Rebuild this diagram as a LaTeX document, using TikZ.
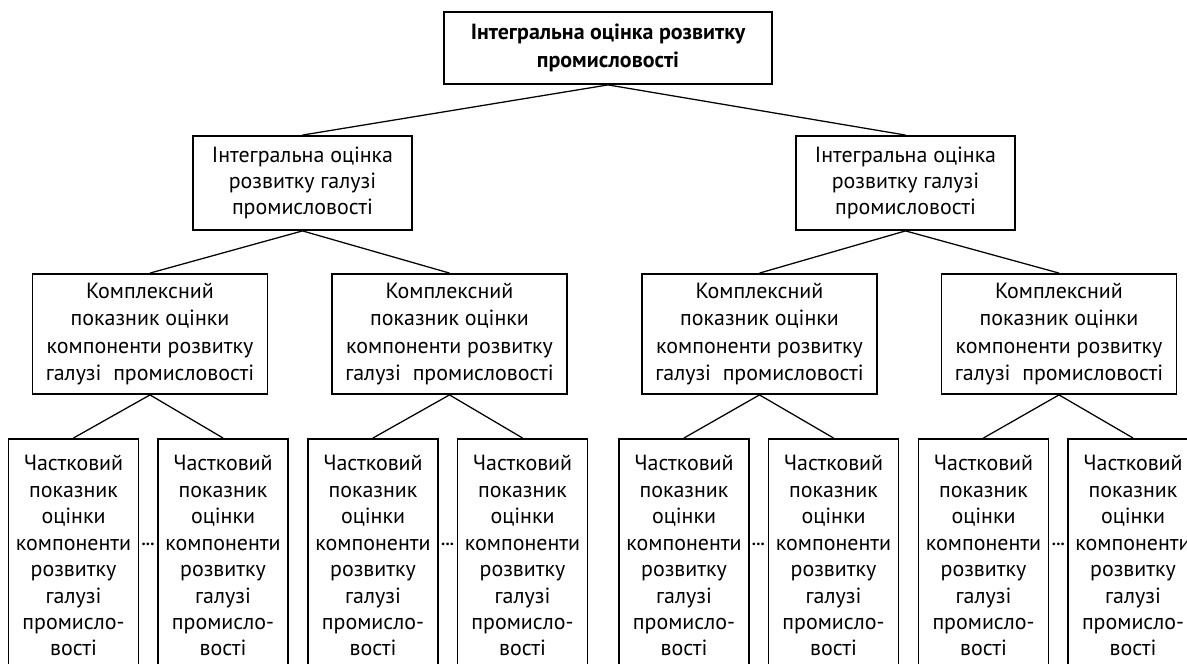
\documentclass[tikz,border=0pt]{standalone}
\usepackage{fontspec}
\setmainfont{PT Sans}
\usepackage{tikz}
\usetikzlibrary{positioning}

\begin{document}
\begin{tikzpicture}[
	box/.style={draw, line width=1.3pt, align=center, inner sep=2pt, font=\fontsize{15.6}{18.8}\selectfont},
	topbox/.style={box, minimum width=8.2cm, minimum height=1.8cm, font=\fontsize{15.6}{19.6}\selectfont\bfseries},
	branchbox/.style={box, minimum width=5.475cm, minimum height=2.35cm},
	compbox/.style={box, minimum width=5.875cm, minimum height=3cm, font=\fontsize{15.6}{19.6}\selectfont},
	leafbox/.style={box, anchor=north, minimum width=3.25cm, minimum height=5.85cm},
	link/.style={line width=0.9pt},
	gap/.style={anchor=base, inner sep=0pt, font=\fontsize{12}{14}\selectfont\bfseries}
	]
				\useasboundingbox (0,0) rectangle (29.675,16.6);
				
				\node [topbox] (total) at (15.2,15.4) {Інтегральна оцінка розвитку\\промисловості};
				
				\node [branchbox] (brA) at (7.5625,12.025) {Інтегральна оцінка\\розвитку галузі\\промисловості};
				\node [branchbox] (brB) at (22.6375,12.025) {Інтегральна оцінка\\розвитку галузі\\промисловості};
				
				\node [compbox] (compA) at (3.75,8.25) {Комплексний\\показник оцінки\\компоненти розвитку\\галузі\ \ промисловості};
				\node [compbox] (compB) at (11.2375,8.25) {Комплексний\\показник оцінки\\компоненти розвитку\\галузі\ \ промисловості};
				\node [compbox] (compC) at (18.9875,8.25) {Комплексний\\показник оцінки\\компоненти розвитку\\галузі\ \ промисловості};
				\node [compbox] (compD) at (26.475,8.25) {Комплексний\\показник оцінки\\компоненти розвитку\\галузі\ \ промисловості};
				
				% % % % % % % % % % % % % % % % % % % % % % % % % %
				
				\node [leafbox] (partA) at (1.8375,5.65) {Частковий\\показник\\оцінки\\компоненти\\розвитку\\галузі\\промисло-\\вості};
				\node [leafbox] (partB) at (5.575,5.65) {Частковий\\показник\\оцінки\\компоненти\\розвитку\\галузі\\промисло-\\вості};
				\node [leafbox] (partC) at (9.325,5.65) {Частковий\\показник\\оцінки\\компоненти\\розвитку\\галузі\\промисло-\\вості};
				\node [leafbox] (partD) at (13.0625,5.65) {Частковий\\показник\\оцінки\\компоненти\\розвитку\\галузі\\промисло-\\вості};
				\node [leafbox] (partE) at (17.1,5.65) {Частковий\\показник\\оцінки\\компоненти\\розвитку\\галузі\\промисло-\\вості};
				\node [leafbox] (partF) at (20.8375,5.65) {Частковий\\показник\\оцінки\\компоненти\\розвитку\\галузі\\промисло-\\вості};
				\node [leafbox] (partG) at (24.5875,5.65) {Частковий\\показник\\оцінки\\компоненти\\розвитку\\галузі\\промисло-\\вості};
				\node [leafbox] (partH) at (28.325,5.65) {Частковий\\показник\\оцінки\\компоненти\\розвитку\\галузі\\промисло-\\вості};
				
				\node [gap] (gapA) at (3.7,2.95) {...};
				\node [gap] (gapB) at (11.19,2.95) {...};
				\node [gap] (gapC) at (18.96,2.95) {...};
				\node [gap] (gapD) at (26.46,2.95) {...};
				
				\draw [link] (total.south) -- (brA.north);
				\draw [link] (total.south) -- (brB.north);
				
				\draw [link] (brA.south) -- (compA.north);
				\draw [link] (brA.south) -- (compB.north);
				\draw [link] (brB.south) -- (compC.north);
				\draw [link] (brB.south) -- (compD.north);
				
				\draw [link] (compA.south) -- (partA.north);
				\draw [link] (compA.south) -- (partB.north);
				\draw [link] (compB.south) -- (partC.north);
				\draw [link] (compB.south) -- (partD.north);
				\draw [link] (compC.south) -- (partE.north);
				\draw [link] (compC.south) -- (partF.north);
				\draw [link] (compD.south) -- (partG.north);
				\draw [link] (compD.south) -- (partH.north);
				\end{tikzpicture}
\end{document}
